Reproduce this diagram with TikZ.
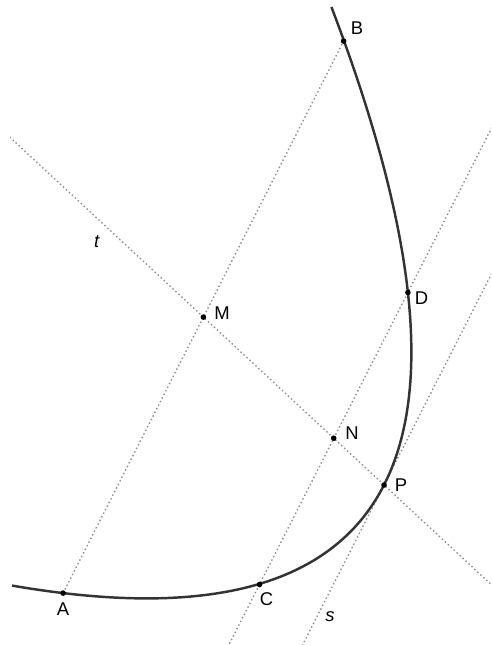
\documentclass[tikz,border=0pt]{standalone}
\usepackage{fontspec}
\setmainfont{Liberation Sans}
\usepackage{tikz}
\usetikzlibrary{positioning,calc}

\tikzset{
  curva/.style={line width=1.4pt, black!80},
  retta/.style={line width=0.8pt, gray!90, dash pattern=on 0.8pt off 1.5pt},
  punto/.style={fill=black},
  etich/.style={inner sep=0pt, font=\fontsize{10.5}{12}\selectfont}
}

\begin{document}
\begin{tikzpicture}[x=0.02cm, y=-0.02cm]
  \useasboundingbox (0,0) rectangle (491,645);

  % Punti sulla parabola e punti medi
  \coordinate (P) at (384,485);
  \coordinate (A) at (63.1,593.1);
  \coordinate (B) at (343.6,41.1);
  \coordinate (C) at (259.5,584.5);
  \coordinate (D) at (407.9,292.5);
  \coordinate (M) at (203.4,317.1);
  \coordinate (N) at (333.7,438.2);

  % Rette tratteggiate (tagliate al riquadro)
  \begin{scope}
    \clip (10,3) rectangle (491,645);
    \draw[retta] (A) -- (B);
    \draw[retta] ($(C)!-0.4!(D)$) -- ($(D)!-0.8!(C)$);
    \draw[retta] ($(M)!-1.6!(N)$) -- ($(M)!2.6!(N)$);
    \draw[retta] ($(P)+(-1.3*74.2,1.3*145.7)$) -- ($(P)+(1.7*74.2,-1.7*145.7)$);
  \end{scope}

  % La parabola
  \draw[curva] plot[domain=-2.08:2.0, samples=120, variable=\u]
    ({384+74.2*\u-50.3*\u*\u}, {485-145.7*\u-46.8*\u*\u});

  % Punti
  \foreach \p in {A,B,C,D,M,N,P}
    \fill[punto] (\p) circle (1.6pt);

  % Etichette
  \node[etich, above right=3.5pt and 4pt of B] {B};
  \node[etich, below right=-0.5pt and 3.8pt of D] {D};
  \node[etich, right=6pt of M, yshift=2pt] {M};
  \node[etich, above right=-1.2pt and 6.5pt of N] {N};
  \node[etich, right=6pt of P] {P};
  \node[etich, below=5.5pt of A] {A};
  \node[etich, below right=4.3pt and 0pt of C] {C};
  \node[etich] (lt) at (97,242) {\textit{t}};
  \node[etich] (ls) at (330,617) {\textit{s}};
\end{tikzpicture}
\end{document}
